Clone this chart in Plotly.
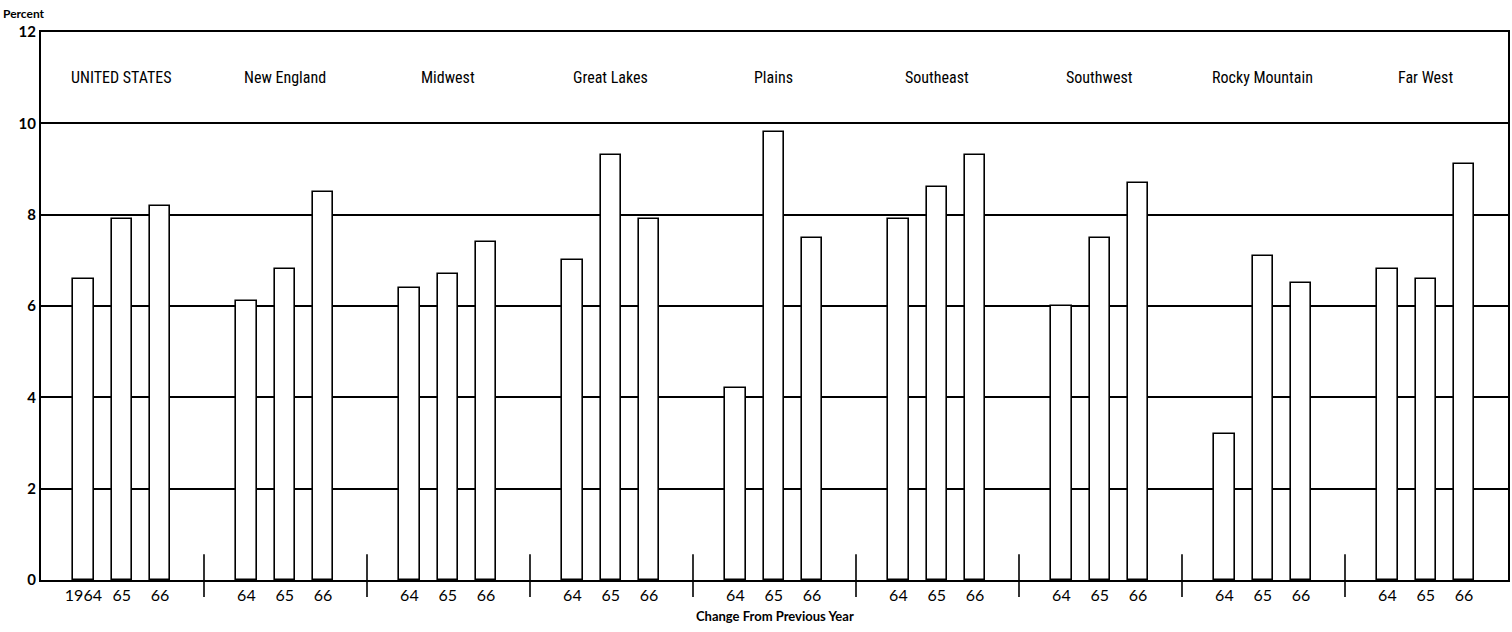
import plotly.graph_objects as go

regions = ["UNITED STATES", "New England", "Midwest", "Great Lakes", "Plains",
           "Southeast", "Southwest", "Rocky Mountain", "Far West"]
years = ["64", "65", "66"]
values_1964 = [6.6, 6.1, 6.4, 7.0, 4.2, 7.9, 6.0, 3.2, 6.8]
values_1965 = [7.9, 6.8, 6.7, 9.3, 9.8, 8.6, 7.5, 7.1, 6.6]
values_1966 = [8.2, 8.5, 7.4, 7.9, 7.5, 9.3, 8.7, 6.5, 9.1]
y_ticks = [0, 2, 4, 6, 8, 10, 12]

offsets = [0.26, 0.495, 0.73]
bar_w = 0.125

xs, ys, tick_text = [], [], []
series = [values_1964, values_1965, values_1966]
for i, _ in enumerate(regions):
    for j, vals in enumerate(series):
        xs.append(i + offsets[j])
        ys.append(vals[i])
        if i == 0 and j == 0:
            tick_text.append("1964")
        else:
            tick_text.append(years[j])

fig = go.Figure()
fig.add_trace(go.Bar(
    x=xs, y=ys, width=bar_w,
    marker=dict(color="white", line=dict(color="black", width=1.6)),
    hoverinfo="skip", showlegend=False,
))

label_font = "Liberation Sans Narrow, Roboto Condensed, Arial Narrow, Roboto, sans-serif"
for i, name in enumerate(regions):
    fig.add_annotation(x=i + offsets[1], y=11, text=name, showarrow=False,
                       xref="x", yref="y",
                       font=dict(family=label_font, size=16, color="black"))

# group dividers on the baseline
for i in range(1, len(regions)):
    fig.add_shape(type="line", xref="x", yref="paper", x0=i, x1=i,
                  y0=-0.031, y1=0.047, line=dict(color="black", width=1.6))

ax_font = "Lato, Open Sans, sans-serif"
fig.add_annotation(x=0, y=1.0, xref="paper", yref="paper", xanchor="left", yanchor="bottom",
                   xshift=-40, yshift=9, text="<b>Percent</b>", showarrow=False,
                   font=dict(family=ax_font, size=12, color="black"))
fig.add_annotation(x=0.5, y=0, xref="paper", yref="paper", xanchor="center", yanchor="top",
                   yshift=-26, text="<b>Change From Previous Year</b>", showarrow=False,
                   font=dict(family=ax_font, size=13, color="black"))

fig.update_layout(
    width=1512, height=632,
    margin=dict(l=41, r=2, t=32, b=52),
    plot_bgcolor="white", paper_bgcolor="white",
    bargap=0,
    xaxis=dict(range=[0, 9], tickmode="array", tickvals=xs, ticktext=tick_text,
               ticks="", showgrid=False, zeroline=False,
               showline=True, linecolor="black", linewidth=2, mirror=True,
               tickfont=dict(family=ax_font, size=16, color="black")),
    yaxis=dict(range=[0, 12], tickmode="array", tickvals=y_ticks,
               ticktext=["<b>%d</b>" % v for v in y_ticks],
               ticks="", showgrid=True, gridcolor="black", gridwidth=1.6,
               zeroline=False, showline=True, linecolor="black", linewidth=2, mirror=True,
               tickfont=dict(family=ax_font, size=15, color="black")),
)

fig.write_html(
    "out.html",
    config={"displayModeBar": False},
    post_script="document.body.style.margin='0';document.body.style.overflow='hidden';",
)
